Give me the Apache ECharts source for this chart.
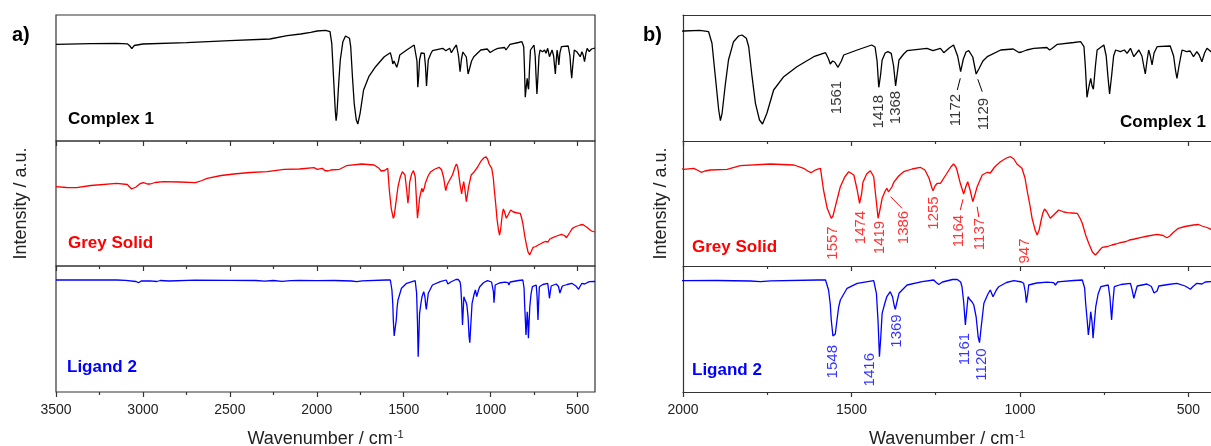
<!DOCTYPE html>
<html>
<head>
<meta charset="utf-8">
<title>IR spectra</title>
<script src="https://cdn.jsdelivr.net/npm/echarts@6/dist/echarts.min.js"></script>
<style>
  html, body { margin: 0; padding: 0; background: #fff; }
  #chart { width: 1211px; height: 446px; }
</style>
</head>
<body>
<div id="chart"></div>
<script>
// spectra as [wavenumber / cm-1, intensity / a.u.]
const complex1 = [
  [3500, 96.7], [3300, 97.3], [3150, 97.7], [3090, 97.2], [3075, 95], [3064, 92.3], [3050, 95.5], [3000, 97],
  [2750, 98.3], [2500, 100.3], [2270, 102], [2170, 105.3], [2093, 107], [2035, 108.7], [1998, 110], [1950, 110.7],
  [1924, 109.3], [1914, 97.7], [1904, 64.3], [1894, 31], [1889, 20.3], [1884, 27.7], [1874, 57.7], [1865, 81],
  [1850, 99.3], [1835, 105], [1825, 106], [1812, 102.7], [1805, 94.3], [1795, 64.3], [1785, 37.7], [1773, 21],
  [1764, 17], [1759, 19], [1751, 27.7], [1731, 51], [1701, 64.3], [1662, 74.3], [1612, 84.3], [1577, 88.3],
  [1568, 82], [1563, 77], [1556, 80], [1550, 79], [1540, 73.7], [1530, 80], [1523, 86], [1483, 91], [1440, 96],
  [1430, 94], [1424, 80], [1419, 53.7], [1414, 65], [1409, 81], [1400, 88], [1392, 89.3], [1382, 87.7], [1375, 75],
  [1369, 55], [1364, 68], [1359, 81], [1345, 87], [1335, 90.3], [1276, 92.7], [1258, 90.3], [1236, 92.7],
  [1226, 88.3], [1210, 93], [1197, 96], [1185, 85], [1176, 69.3], [1168, 82], [1160, 89], [1152, 90.3], [1140, 84],
  [1130, 67], [1122, 72], [1110, 80], [1097, 84.3], [1057, 91], [1020, 92], [1003, 88.5], [995, 89], [980, 91],
  [959, 92.7], [920, 93.5], [912, 91], [905, 92.5], [889, 96.7], [840, 98.5], [820, 99.3], [810, 94.3], [806, 75],
  [801, 43.7], [795, 55], [790, 62.7], [786, 55], [782, 51.7], [776, 75], [771, 91], [751, 96], [744, 85], [739, 65],
  [734, 47], [728, 65], [722, 85], [716, 91], [702, 89.3], [690, 91], [682, 87.7], [672, 92.7], [662, 84.3],
  [647, 91], [638, 85], [632, 74], [628, 67], [623, 80], [618, 91], [613, 85], [608, 76], [602, 88], [593, 94.3],
  [554, 95], [544, 85], [538, 70], [534, 62.7], [528, 75], [519, 91], [505, 89.3], [495, 90], [485, 84.3],
  [475, 89.3], [468, 86], [460, 79.3], [452, 88], [445, 92.7], [433, 89.3], [420, 92], [400, 93]
];

const greySolid = [
  [3500, 79.3], [3440, 78.5], [3381, 78.3], [3300, 80.5], [3150, 82.7], [3090, 81.5], [3065, 77], [3054, 75.3],
  [3040, 79], [3015, 82.5], [2996, 83.3], [2975, 82], [2958, 82], [2930, 83.5], [2881, 84.3], [2790, 84],
  [2698, 83.3], [2660, 85.5], [2631, 87.7], [2550, 90.5], [2477, 92], [2385, 93.5], [2285, 94.3], [2189, 96.7],
  [2100, 97], [2016, 98.3], [1998, 96.7], [1968, 97.7], [1955, 95.5], [1946, 93.7], [1935, 95], [1919, 96],
  [1869, 96.7], [1830, 100.3], [1741, 102], [1671, 101], [1642, 97.7], [1630, 95], [1620, 93.3], [1610, 95.5],
  [1602, 96.7], [1592, 97.7], [1583, 76], [1572, 57.7], [1560, 47.7], [1555, 50], [1548, 59.3], [1540, 70],
  [1533, 79.3], [1520, 89], [1508, 94.3], [1493, 91], [1483, 76], [1476, 62.7], [1470, 72], [1466, 83.7],
  [1455, 92], [1444, 95.3], [1434, 89.3], [1428, 70], [1421, 47.7], [1415, 57], [1409, 67.7], [1400, 75],
  [1395, 77.7], [1390, 74], [1387, 72.7], [1380, 79], [1375, 83.3], [1360, 90], [1345, 94.3], [1320, 97],
  [1296, 98.7], [1282, 96], [1270, 88], [1261, 77.7], [1258, 75.3], [1252, 80], [1246, 82.7], [1236, 82.7],
  [1220, 91], [1205, 99], [1197, 102], [1190, 99], [1187, 96], [1177, 82.7], [1167, 72], [1160, 80], [1155, 84.3],
  [1148, 76], [1140, 64.3], [1133, 72], [1127, 79.3], [1112, 91], [1097, 93.7], [1088, 93], [1075, 99],
  [1058, 104.3], [1040, 108], [1028, 109.3], [1018, 107], [1009, 102], [994, 97.7], [985, 88], [979, 76],
  [970, 60], [964, 47.7], [955, 36], [949, 31], [943, 36], [937, 46], [932, 53], [927, 57], [920, 54], [910, 47.7],
  [900, 51], [885, 56], [870, 54], [860, 53.3], [845, 53], [830, 52.7], [822, 48], [815, 42.7], [805, 31],
  [796, 22.7], [785, 14], [776, 11], [768, 14], [756, 18.7], [740, 19.5], [727, 21], [715, 22], [702, 23.3],
  [685, 24.5], [675, 26], [670, 24], [660, 27], [643, 28.3], [620, 30], [593, 31.7], [575, 30.5], [564, 28.3],
  [555, 30], [545, 33.5], [530, 37.7], [510, 39.5], [485, 41], [470, 41.5], [460, 40], [445, 38.5], [433, 36.7],
  [420, 35], [400, 34]
];

const ligand2 = [
  [3500, 112], [3300, 112], [3150, 112], [3100, 111.7], [3040, 110.5], [3025, 109.3], [3010, 111], [2960, 111.2],
  [2920, 110.5], [2900, 111.5], [2850, 111], [2700, 111.8], [2500, 111.6], [2350, 111.5], [2300, 110.8],
  [2250, 111.5], [2200, 110.7], [2150, 111.3], [2100, 111.5], [2000, 111.3], [1900, 111.5], [1800, 111],
  [1770, 110.3], [1740, 111.2], [1600, 112], [1577, 112], [1568, 102], [1563, 88], [1560, 72], [1555, 56],
  [1548, 58], [1543, 72], [1538, 85], [1533, 92], [1513, 103.7], [1483, 108.7], [1434, 111.3], [1426, 98.7],
  [1421, 70], [1417, 35.3], [1413, 55], [1409, 78.7], [1400, 90], [1395, 95.3], [1385, 100.3], [1378, 95],
  [1373, 86], [1370, 82.7], [1365, 90], [1359, 98.7], [1335, 107], [1290, 110.3], [1256, 112], [1250, 110],
  [1246, 108], [1241, 107.5], [1230, 110], [1200, 112.5], [1187, 112.7], [1176, 110], [1172, 105.3], [1167, 90],
  [1162, 67], [1157, 85], [1154, 95.3], [1150, 93], [1147, 91.3], [1142, 90], [1137, 87], [1130, 75], [1124, 55],
  [1120, 49.3], [1115, 65], [1107, 88.7], [1095, 98], [1088, 102], [1080, 95.3], [1070, 102], [1063, 105.3],
  [1040, 109.5], [1018, 111.3], [995, 110], [989, 108.7], [984, 100], [981, 89.3], [977, 98], [974, 107],
  [950, 109], [920, 109.8], [900, 109.3], [895, 107], [888, 110], [880, 110.3], [840, 111.5], [815, 112],
  [808, 104], [805, 88.7], [800, 70], [797, 57], [793, 68], [790, 80.3], [786, 70], [783, 53.7], [779, 70],
  [775, 85.3], [768, 98], [760, 105.3], [738, 107], [733, 95], [728, 72], [724, 90], [720, 105.3], [700, 107.5],
  [672, 108.7], [667, 102], [662, 93.7], [657, 100], [652, 106], [623, 108], [610, 105.5], [602, 99], [598, 97],
  [593, 101], [588, 106], [560, 107.5], [534, 108.7], [510, 106], [500, 104], [494, 102.7], [488, 105],
  [475, 108.7], [460, 108], [450, 110], [433, 110.3], [400, 110.5]
];

// axis ticks
const majorTicksA = [3500, 3000, 2500, 2000, 1500, 1000, 500];
const minorTicksA = [3250, 2750, 2250, 1750, 1250, 750];
const majorTicksB = [2000, 1500, 1000, 500];
const minorTicksB = [1750, 1250, 750];

// peak annotations in panel b: [wavenumber, intensity, text]
const peaksComplex1 = [[1543, 43.5, '1561'], [1419, 29.3, '1418'], [1367, 33.5, '1368'], [1191, 31, '1172'], [1107, 27, '1129']];
const peaksGrey = [[1555, 23, '1557'], [1471, 38.5, '1474'], [1416, 28.5, '1419'], [1345, 38.5, '1386'],
  [1256, 53, '1255'], [1182, 35, '1164'], [1119, 32, '1137'], [984, 15, '947']];
const peaksLigand = [[1555, 30.3, '1548'], [1446, 22.3, '1416'], [1365, 61, '1369'], [1164, 43, '1161'], [1112, 27.5, '1120']];
const leadersComplex1 = [[[1177, 62.7], [1186, 51]], [[1125, 61.7], [1112, 49.3]]];
const leadersGrey = [[[1384, 69.3], [1350, 57.7]], [[1169, 66.7], [1177, 56]], [[1127, 59.3], [1122, 49]]];

const FONT = 'Liberation Sans, Arial, sans-serif';
const FRAME = { color: '#333', width: 1.2 };

const rows = [
  { name: 'Complex 1', data: complex1, color: '#000000', top: 15, height: 126, peaks: peaksComplex1, leaders: leadersComplex1 },
  { name: 'Grey Solid', data: greySolid, color: '#ff0000', top: 141, height: 125, peaks: peaksGrey, leaders: leadersGrey },
  { name: 'Ligand 2', data: ligand2, color: '#0000ff', top: 266, height: 126, peaks: peaksLigand, leaders: [] }
];

// panel b is cut at the right edge of the picture (axis would run to 400)
const panels = [
  { left: 56, width: 539, min: 400, max: 3500, majors: majorTicksA, minors: minorTicksA, nameGap: 26, box: true },
  { left: 683, width: 528, min: 433, max: 2000, majors: majorTicksB, minors: minorTicksB, nameGap: 13, box: false }
];

const grid = [], xAxis = [], yAxis = [], series = [];

panels.forEach((p, pi) => {
  rows.forEach((r, ri) => {
    const g = grid.length;
    grid.push({
      left: p.left, top: r.top, width: p.width, height: r.height, outerBoundsMode: 'none',
      show: p.box, borderColor: FRAME.color, borderWidth: FRAME.width, backgroundColor: 'transparent'
    });
    const xi = xAxis.length;
    xAxis.push({
      gridIndex: g, type: 'value', inverse: true, min: p.min, max: p.max, position: 'bottom',
      axisLine: { show: !p.box, onZero: false, lineStyle: FRAME },
      axisTick: { show: true, inside: false, length: 5, customValues: p.majors, lineStyle: FRAME },
      axisLabel: {
        show: ri === 2, customValues: p.majors, margin: 11, fontSize: 14, color: '#222', fontFamily: FONT,
        formatter: (v) => String(v)
      },
      splitLine: { show: false },
      name: ri === 2 ? '{a|Wavenumber / cm}{s|-1}' : '',
      nameLocation: 'middle', nameGap: 37,
      nameTextStyle: {
        rich: {
          a: { fontSize: 18, color: '#222', fontFamily: FONT },
          s: { fontSize: 11, color: '#222', fontFamily: FONT, verticalAlign: 'top', padding: [0, 0, 9, 1] }
        }
      }
    });
    xAxis.push({
      gridIndex: g, type: 'value', inverse: true, min: p.min, max: p.max, position: 'bottom',
      axisLine: { show: false },
      axisTick: { show: true, inside: false, length: 3, customValues: p.minors, lineStyle: FRAME },
      axisLabel: { show: false },
      splitLine: { show: false }
    });
    if (!p.box && ri === 0) {
      // top frame line of panel b
      xAxis.push({
        gridIndex: g, type: 'value', inverse: true, min: p.min, max: p.max, position: 'top',
        axisLine: { show: true, onZero: false, lineStyle: FRAME },
        axisTick: { show: false }, axisLabel: { show: false }, splitLine: { show: false }
      });
    }
    yAxis.push({
      gridIndex: g, type: 'value', min: 0, max: r.height, show: ri === 1 || !p.box,
      axisLine: { show: !p.box, onZero: false, lineStyle: FRAME },
      axisTick: { show: false }, axisLabel: { show: false }, splitLine: { show: false },
      name: ri === 1 ? 'Intensity / a.u.' : '', nameLocation: 'middle', nameGap: p.nameGap,
      nameTextStyle: { fontSize: 18, color: '#222', fontFamily: FONT }
    });
    series.push({
      type: 'line', xAxisIndex: xi, yAxisIndex: g, data: r.data,
      showSymbol: false, symbol: 'none', silent: true, clip: true,
      lineStyle: { color: r.color, width: 1.3 }, itemStyle: { color: r.color }
    });
    if (pi === 1) {
      series.push({
        type: 'scatter', xAxisIndex: xi, yAxisIndex: g, data: r.peaks,
        symbolSize: 0, silent: true, clip: false, z: 5,
        label: {
          show: true, position: 'inside', rotate: 90, align: 'center', verticalAlign: 'middle',
          formatter: (d) => d.data[2], color: r.color, fontSize: 15, fontFamily: FONT
        },
        markLine: {
          silent: true, symbol: ['none', 'none'], label: { show: false },
          lineStyle: { color: r.color, width: 1, type: 'solid' },
          data: r.leaders.map(l => [{ coord: l[0] }, { coord: l[1] }])
        }
      });
    }
  });
});

const graphic = [
  { type: 'text', style: { text: 'a)', x: 12, y: 35, font: 'bold 20px ' + FONT, fill: '#000', verticalAlign: 'middle' } },
  { type: 'text', style: { text: 'b)', x: 643, y: 35, font: 'bold 20px ' + FONT, fill: '#000', verticalAlign: 'middle' } },
  { type: 'text', style: { text: 'Complex 1', x: 68, y: 119, font: 'bold 17px ' + FONT, fill: '#000', verticalAlign: 'middle' } },
  { type: 'text', style: { text: 'Grey Solid', x: 68, y: 243, font: 'bold 17px ' + FONT, fill: '#ff0000', verticalAlign: 'middle' } },
  { type: 'text', style: { text: 'Ligand 2', x: 67, y: 367, font: 'bold 17px ' + FONT, fill: '#0000ff', verticalAlign: 'middle' } },
  { type: 'text', style: { text: 'Complex 1', x: 1206, y: 122, font: 'bold 17px ' + FONT, fill: '#000', align: 'right', verticalAlign: 'middle' } },
  { type: 'text', style: { text: 'Grey Solid', x: 692, y: 247, font: 'bold 17px ' + FONT, fill: '#ff0000', verticalAlign: 'middle' } },
  { type: 'text', style: { text: 'Ligand 2', x: 692, y: 370, font: 'bold 17px ' + FONT, fill: '#0000ff', verticalAlign: 'middle' } }
];

const chart = echarts.init(document.getElementById('chart'));
chart.setOption({
  animation: false,
  backgroundColor: '#fff',
  grid, xAxis, yAxis, series, graphic
});
</script>
</body>
</html>
